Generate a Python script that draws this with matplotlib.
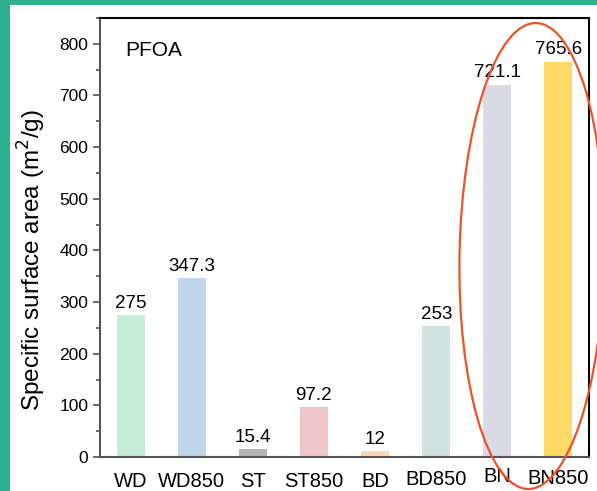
import matplotlib.pyplot as plt
from matplotlib.patches import Ellipse, Rectangle
from matplotlib.ticker import MultipleLocator
import matplotlib.transforms as mtransforms

plt.rcParams['font.family'] = ['Liberation Sans', 'DejaVu Sans']

# data
samples = ['WD', 'WD850', 'ST', 'ST850', 'BD', 'BD850', 'BN', 'BN850']
area = [275, 347.3, 15.4, 97.2, 12, 253, 721.1, 765.6]
value_labels = ['275', '347.3', '15.4', '97.2', '12', '253', '721.1', '765.6']
colors = ['#c6ecd6', '#c0d4ea', '#b4b4b4', '#eec6c8', '#fdd7b0',
          '#cfe2e0', '#dadae6', '#ffd966']

fig = plt.figure(figsize=(5.97, 4.91), dpi=100)
fig.patch.set_facecolor('#2fb08f')
# white card over the teal background
fig.patches.append(Rectangle((10 / 597, 0), 1, 1 - 5 / 491, transform=fig.transFigure,
                             facecolor='white', edgecolor='none', zorder=-1))

ax = fig.add_axes([100 / 597, 1 - 457 / 491, 489 / 597, 439 / 491])
x = list(range(len(samples)))
ax.bar(x, area, width=0.46, color=colors)

for xi, v, lab in zip(x, area, value_labels):
    ax.text(xi, v + 6, lab, ha='center', va='bottom', fontsize=13.5)

ax.set_xlim(-0.5, 7.5)
ax.set_ylim(0, 850)
ax.yaxis.set_major_locator(MultipleLocator(100))
ax.yaxis.set_minor_locator(MultipleLocator(50))
ax.tick_params(axis='y', direction='out', labelsize=12.5, length=5, width=1.2, color='#555555')
ax.tick_params(axis='y', which='minor', length=3, width=1.2, color='#555555')
ax.set_xticks([])

# x labels (BN / BN850 sit a little higher in the original)
label_y = [-0.055, -0.055, -0.055, -0.055, -0.055, -0.052, -0.045, -0.048]
trans = mtransforms.blended_transform_factory(ax.transData, ax.transAxes)
for xi, s, yy in zip(x, samples, label_y):
    ax.text(xi, yy, s, ha='center', va='center', fontsize=14.5, transform=trans)

ax.set_ylabel('Specific surface area (m$^2$/g)', fontsize=17.5)
ax.yaxis.set_label_coords(-0.106, 0.449)
ax.text(0.052, 0.925, 'PFOA', transform=ax.transAxes, fontsize=15, va='center')

for side in ['left', 'bottom']:
    ax.spines[side].set_color('#555555')
    ax.spines[side].set_linewidth(1.5)
for side in ['top', 'right']:
    ax.spines[side].set_color('black')
    ax.spines[side].set_linewidth(1.5)

# red ellipse highlighting BN samples (pixel coords via inches)
ell = Ellipse((5.32, (491 - 256) / 100), 1.45, 4.66, angle=-1,
              transform=fig.dpi_scale_trans, fill=False, edgecolor='#ee5128',
              linewidth=1.6, clip_on=False)
fig.patches.append(ell)

fig.savefig('out.png', dpi=100)
